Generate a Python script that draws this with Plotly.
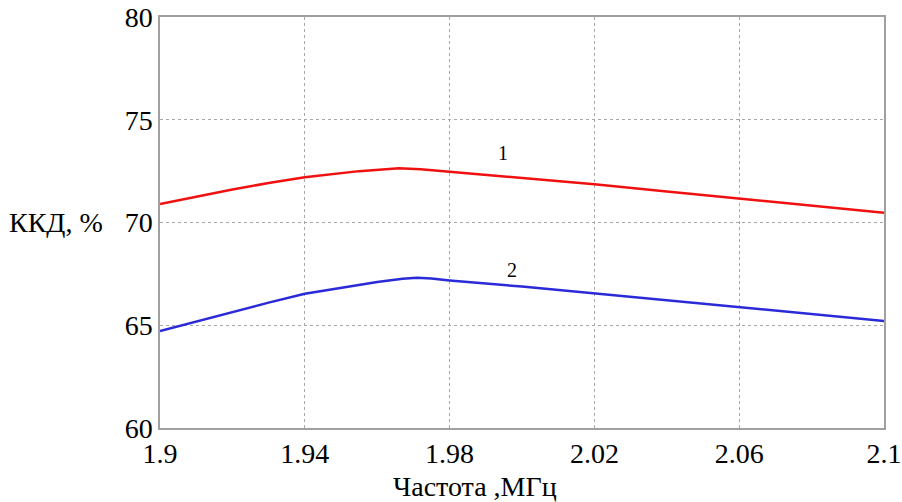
import plotly.graph_objects as go

# Frequency grid, MHz
freq_1 = [1.90, 1.91, 1.92, 1.93, 1.94, 1.955, 1.96, 1.966, 1.972, 1.98,
          2.00, 2.02, 2.04, 2.06, 2.08, 2.10]
eff_1 = [70.90, 71.26, 71.61, 71.92, 72.20, 72.50, 72.57, 72.64, 72.59, 72.47,
         72.19, 71.86, 71.51, 71.16, 70.82, 70.48]

freq_2 = [1.90, 1.91, 1.92, 1.93, 1.94, 1.955, 1.96, 1.967, 1.971, 1.975, 1.98,
          2.00, 2.02, 2.04, 2.06, 2.08, 2.10]
eff_2 = [64.72, 65.19, 65.65, 66.10, 66.53, 66.98, 67.10, 67.26, 67.31, 67.27, 67.18,
         66.88, 66.55, 66.21, 65.87, 65.54, 65.21]

x_ticks = [1.90, 1.94, 1.98, 2.02, 2.06, 2.10]
x_tick_text = ["1.9", "1.94", "1.98", "2.02", "2.06", "2.1"]
y_ticks = [60, 65, 70, 75, 80]

curve_labels = ["1", "2"]
label_pos = [(1.9948, 73.38), (1.9972, 67.69)]

FONT = "Liberation Serif, Times New Roman, serif"

fig = go.Figure()
fig.add_trace(go.Scatter(x=freq_1, y=eff_1, mode="lines",
                         line=dict(color="#f01010", width=2.5), showlegend=False))
fig.add_trace(go.Scatter(x=freq_2, y=eff_2, mode="lines",
                         line=dict(color="#2a2ad8", width=2.5), showlegend=False))

for txt, (lx, ly) in zip(curve_labels, label_pos):
    fig.add_annotation(x=lx, y=ly, text=txt, showarrow=False,
                       font=dict(family=FONT, size=20, color="black"))

# Axis titles
fig.add_annotation(xref="paper", yref="y", x=-0.076, y=70, xanchor="right",
                   yanchor="middle", text="ККД, %", showarrow=False,
                   font=dict(family=FONT, size=28, color="black"))
fig.add_annotation(xref="paper", yref="paper", x=0.435, y=-0.143,
                   xanchor="center", yanchor="middle", text="Частота ,МГц",
                   showarrow=False, font=dict(family=FONT, size=28, color="black"))

axis_common = dict(showgrid=True, gridcolor="#a8a8a8", griddash="dot", gridwidth=1,
                   showline=True, linecolor="#a0a0a0", linewidth=1.5, mirror=True,
                   ticks="", zeroline=False, automargin=False,
                   tickfont=dict(family=FONT, size=28, color="black"))

fig.update_xaxes(range=[1.9, 2.1], tickvals=x_ticks, ticktext=x_tick_text, **axis_common)
fig.update_yaxes(range=[60, 80], tickvals=y_ticks, **axis_common)

fig.update_layout(width=902, height=502,
                  margin=dict(l=160, r=18, t=17, b=74),
                  plot_bgcolor="white", paper_bgcolor="white",
                  font=dict(family=FONT, color="black"))

fig.write_html("out.html")
